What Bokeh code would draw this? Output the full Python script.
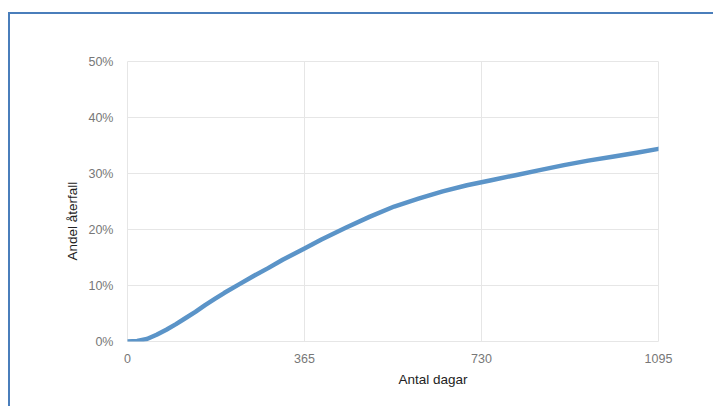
from bokeh.plotting import figure
from bokeh.models import Range1d, FixedTicker, NumeralTickFormatter, Title
from bokeh.embed import file_html
from bokeh.resources import INLINE

# Data
days = [0, 20, 40, 60, 80, 100, 120, 140, 160, 180, 200, 230, 260, 290, 320, 365,
        400, 450, 500, 550, 600, 650, 700, 750, 800, 850, 900, 950, 1000, 1050, 1095]
share = [0.000, 0.001, 0.0045, 0.012, 0.021, 0.031, 0.042, 0.053, 0.065, 0.076,
         0.087, 0.102, 0.117, 0.131, 0.146, 0.166, 0.182, 0.203, 0.223, 0.241,
         0.255, 0.268, 0.279, 0.288, 0.297, 0.306, 0.315, 0.323, 0.330, 0.337, 0.344]
x_ticks = [0, 365, 730, 1095]
y_ticks = [0, 0.1, 0.2, 0.3, 0.4, 0.5]
x_title = "Antal dagar"
y_title = "Andel återfall"

FONT = "Liberation Sans"
FRAME = "#4a7ebb"

p = figure(width=713, height=406, output_backend="svg", toolbar_location=None,
           x_range=Range1d(0, 1095), y_range=Range1d(0, 0.5),
           min_border_left=127, min_border_right=55,
           min_border_top=61, min_border_bottom=65)

p.styles = {
    "background-color": "#ffffff",
    "background-image": (
        f"linear-gradient(to bottom, transparent 12px, {FRAME} 12px, {FRAME} 14px, transparent 14px), "
        f"linear-gradient(to right, transparent 8px, {FRAME} 8px, {FRAME} 10px, transparent 10px)"),
    "background-position": "8px 0px, 0px 12px",
    "background-size": "100% 100%, 100% 100%",
    "background-repeat": "no-repeat, no-repeat",
}
p.border_fill_color = None
p.background_fill_color = "white"
p.outline_line_color = "#e6e6e6"
p.outline_line_width = 1

p.xaxis.ticker = FixedTicker(ticks=x_ticks)
p.yaxis.ticker = FixedTicker(ticks=y_ticks)
p.yaxis.formatter = NumeralTickFormatter(format="0%")

for ax in (p.xaxis, p.yaxis):
    ax.axis_line_color = None
    ax.major_tick_line_color = None
    ax.minor_tick_line_color = None
    ax.major_label_text_font = FONT
    ax.major_label_text_font_size = "12.5px"
    ax.major_label_text_color = "#777777"
p.yaxis.major_label_standoff = 8
p.xaxis.major_label_standoff = 6

p.xgrid.grid_line_color = "#e6e6e6"
p.ygrid.grid_line_color = "#e6e6e6"

p.line(days, share, line_color="#5b94c8", line_width=4.5, line_cap="round",
       line_join="round")

p.add_layout(Title(text=x_title, align="left", offset=271, standoff=8,
                   text_font=FONT, text_font_size="13.5px", text_font_style="normal",
                   text_color="#222222"), "below")
p.add_layout(Title(text=y_title, align="left", offset=81, standoff=12,
                   text_font=FONT, text_font_size="13.5px", text_font_style="normal",
                   text_color="#222222"), "left")

open("out.html", "w").write(file_html(p, INLINE))
